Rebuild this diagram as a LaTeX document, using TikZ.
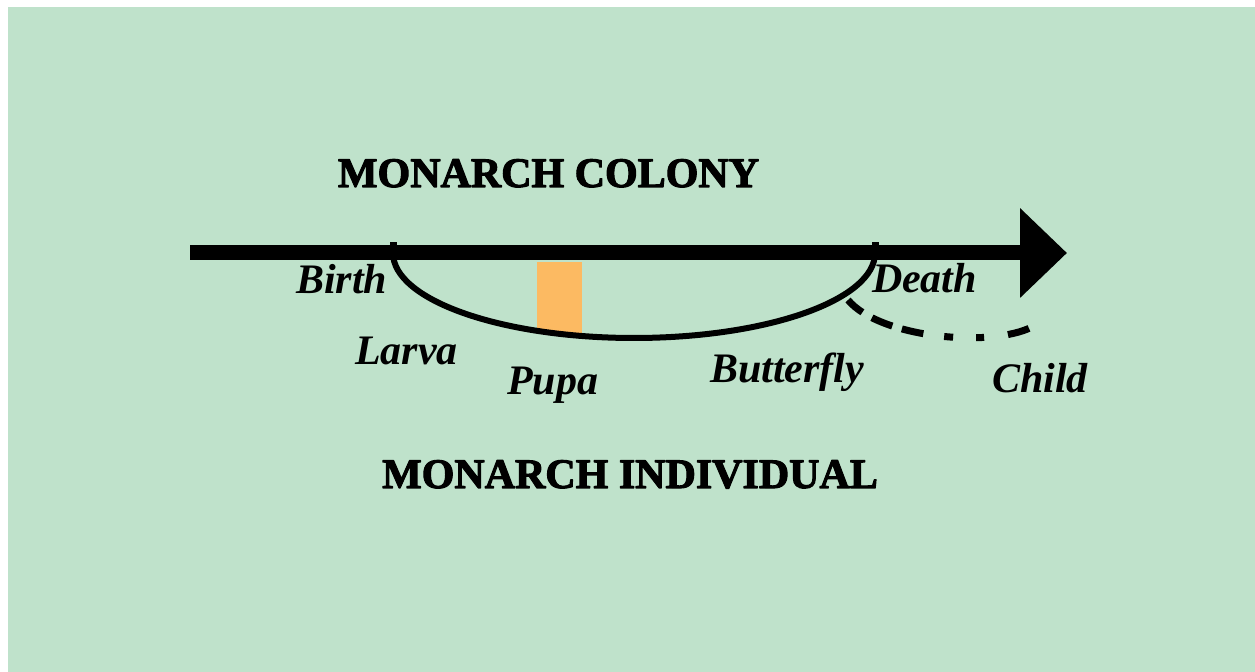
\documentclass[tikz,border=0pt]{standalone}
\usepackage{fontspec}
\setmainfont{Liberation Serif}
\newfontfamily\titlefont[FakeBold=2.5]{Liberation Serif Bold}
\usetikzlibrary{arrows.meta}
\definecolor{meadow}{RGB}{191,226,203}
\definecolor{pupacol}{RGB}{252,186,98}
\tikzset{
  lbl/.style={anchor=base west, inner sep=0pt, outer sep=0pt,
    font=\bfseries\itshape\fontsize{21pt}{24pt}\selectfont},
  ttl/.style={anchor=base, inner sep=0pt, outer sep=0pt,
    font=\titlefont\fontsize{21pt}{24pt}\selectfont}
}
\begin{document}
\begin{tikzpicture}[x=0.5pt, y=-0.5pt, line join=round, >={Triangle[length=23.5pt,width=43.5pt]}]
\useasboundingbox (0,0) rectangle (1255,672);
\fill[meadow] (8,7) rectangle (1255,672);
\path
  (190,253) coordinate (start)
  (1067,253) coordinate (end)
  (393,253) coordinate (B)
  (875,253) coordinate (D)
  (848,300) coordinate (C0)
  (1032,327) coordinate (C1)
  ;
% pupa stage, cut off by the life arc
\begin{scope}
  \clip (B) arc[start angle=180, end angle=0, x radius=241, y radius=85] -- cycle;
  \fill[pupacol] (537,262) rectangle (582,350);
\end{scope}
\draw[line width=7.5pt, ->] (start) -- (end);
\foreach \x in {B,D}\draw[line width=3.5pt] (\x) -- ++(0,-11);
\draw[line width=3pt] (B) arc[start angle=180, end angle=0, x radius=241, y radius=85];
\draw[line width=3.5pt, dash pattern=on 9.5pt off 5.5pt on 11pt off 5pt on 11pt off 10.5pt on 4.5pt off 11.5pt on 4pt off 12pt on 11pt off 20pt]
  (C0) .. controls (880,338) and (990,348) .. (C1);
\foreach \n/\x/\y in {Birth/296/294, Death/872/293, Larva/355/365, Pupa/507/395, Butterfly/710/383, Child/992/393}
  \node[lbl] (\n) at (\x,\y) {\n};
\node[ttl] (colony) at (548.5,187) {MONARCH COLONY};
\node[ttl] (individual) at (630,488) {MONARCH INDIVIDUAL};
\end{tikzpicture}
\end{document}
